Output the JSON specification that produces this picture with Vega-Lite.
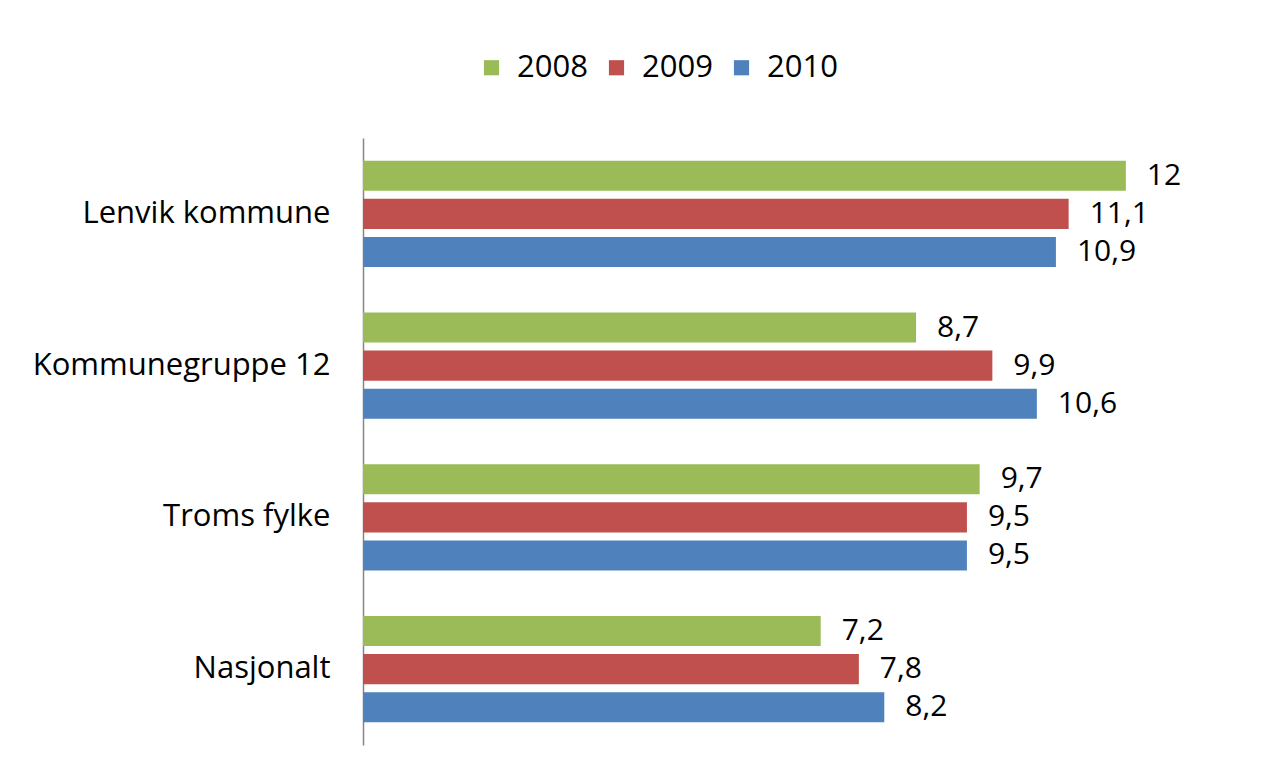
{
  "$schema": "https://vega.github.io/schema/vega-lite/v6.json",
  "autosize": {"type": "none"},
  "width": 890,
  "height": 607,
  "padding": {"left": 363, "top": 138, "right": 26, "bottom": 31},
  "background": "white",
  "config": {
    "view": {"stroke": null},
    "font": "Open Sans",
    "locale": {"number": {"decimal": ",", "thousands": " ", "grouping": [3], "currency": ["", " kr"]}}
  },
  "data": {
    "values": [
      {"region": "Lenvik kommune", "year": "2008", "value": 12},
      {"region": "Lenvik kommune", "year": "2009", "value": 11.1},
      {"region": "Lenvik kommune", "year": "2010", "value": 10.9},
      {"region": "Kommunegruppe 12", "year": "2008", "value": 8.7},
      {"region": "Kommunegruppe 12", "year": "2009", "value": 9.9},
      {"region": "Kommunegruppe 12", "year": "2010", "value": 10.6},
      {"region": "Troms fylke", "year": "2008", "value": 9.7},
      {"region": "Troms fylke", "year": "2009", "value": 9.5},
      {"region": "Troms fylke", "year": "2010", "value": 9.5},
      {"region": "Nasjonalt", "year": "2008", "value": 7.2},
      {"region": "Nasjonalt", "year": "2009", "value": 7.8},
      {"region": "Nasjonalt", "year": "2010", "value": 8.2}
    ]
  },
  "encoding": {
    "y": {
      "field": "region",
      "type": "nominal",
      "sort": ["Lenvik kommune", "Kommunegruppe 12", "Troms fylke", "Nasjonalt"],
      "scale": {"paddingInner": 0.3, "paddingOuter": 0.15},
      "axis": {
        "title": null,
        "ticks": false,
        "domainColor": "#868686",
        "domainWidth": 1.5,
        "labelFontSize": 31,
        "labelColor": "#000000",
        "labelPadding": 33,
        "labelLimit": 0,
        "labelFont": "Open Sans"
      }
    },
    "yOffset": {
      "field": "year",
      "type": "nominal",
      "scale": {"paddingInner": 0.21, "paddingOuter": 0}
    },
    "x": {
      "field": "value",
      "type": "quantitative",
      "scale": {"domain": [0, 14], "nice": false},
      "axis": null
    }
  },
  "layer": [
    {
      "mark": {"type": "bar"},
      "encoding": {
        "color": {
          "field": "year",
          "type": "nominal",
          "scale": {"domain": ["2008", "2009", "2010"], "range": ["#9BBB59", "#C0504D", "#4F81BD"]},
          "legend": {
            "title": null,
            "orient": "none",
            "direction": "horizontal",
            "legendX": 113,
            "legendY": -86,
            "symbolType": "square",
            "symbolSize": 230,
            "symbolStrokeWidth": 0,
            "labelFontSize": 31,
            "labelColor": "#000000",
            "labelOffset": 10,
            "columnPadding": 13
          }
        }
      }
    },
    {
      "mark": {"type": "text", "align": "left", "baseline": "middle", "dx": 21, "fontSize": 30, "color": "#000000"},
      "encoding": {
        "text": {"field": "value", "type": "quantitative", "format": ".1~f"}
      }
    }
  ]
}
